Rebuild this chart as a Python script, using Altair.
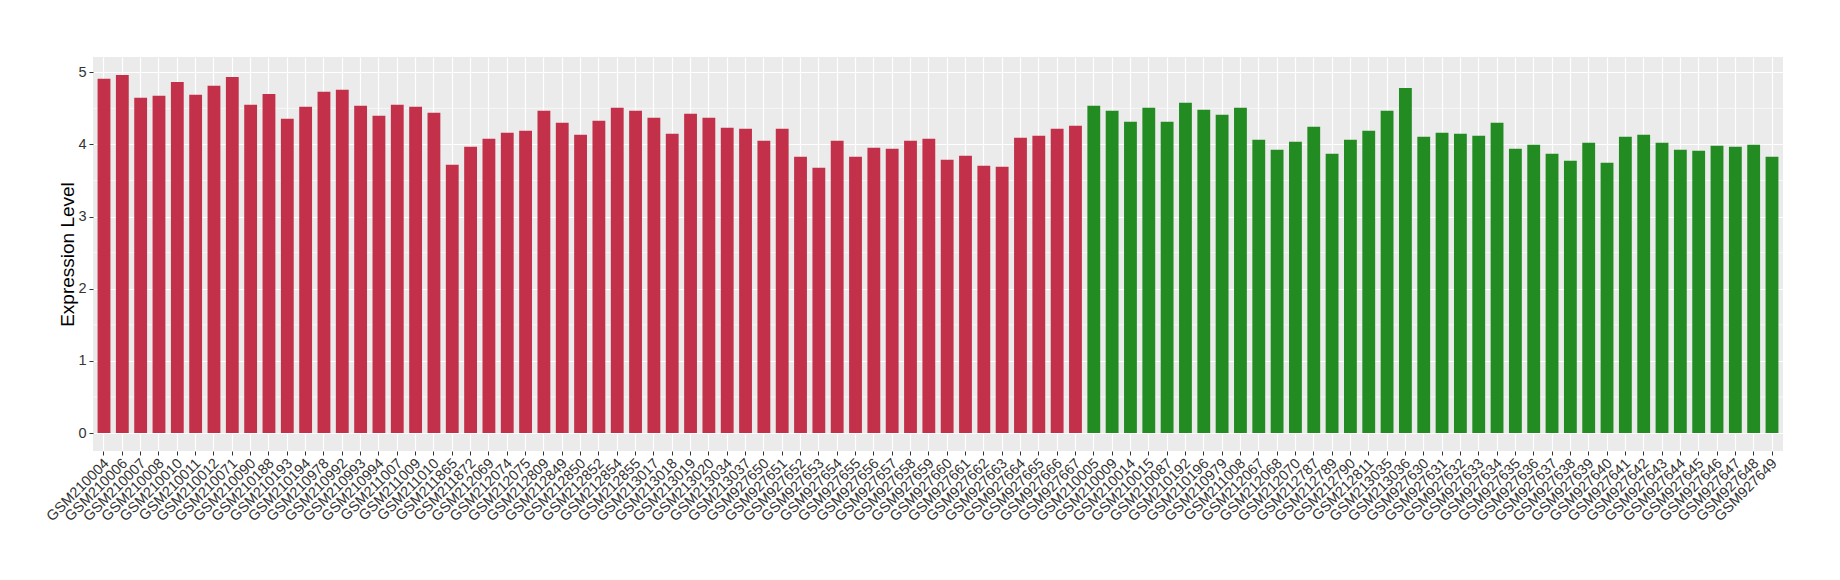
import altair as alt
import pandas as pd

red_samples = [
    "GSM210004", "GSM210006", "GSM210007", "GSM210008", "GSM210010", "GSM210011",
    "GSM210012", "GSM210071", "GSM210090", "GSM210188", "GSM210193", "GSM210194",
    "GSM210978", "GSM210992", "GSM210993", "GSM210994", "GSM211007", "GSM211009",
    "GSM211010", "GSM211865", "GSM211872", "GSM212069", "GSM212074", "GSM212075",
    "GSM212809", "GSM212849", "GSM212850", "GSM212852", "GSM212854", "GSM212855",
    "GSM213017", "GSM213018", "GSM213019", "GSM213020", "GSM213034", "GSM213037",
    "GSM927650", "GSM927651", "GSM927652", "GSM927653", "GSM927654", "GSM927655",
    "GSM927656", "GSM927657", "GSM927658", "GSM927659", "GSM927660", "GSM927661",
    "GSM927662", "GSM927663", "GSM927664", "GSM927665", "GSM927666", "GSM927667",
]
red_values = [
    4.908, 4.963, 4.645, 4.673, 4.866, 4.687, 4.811, 4.935, 4.548, 4.700,
    4.355, 4.521, 4.728, 4.756, 4.535, 4.396, 4.548, 4.521, 4.438, 3.719,
    3.968, 4.078, 4.161, 4.189, 4.465, 4.300, 4.134, 4.327, 4.507, 4.465,
    4.369, 4.147, 4.424, 4.369, 4.230, 4.217, 4.051, 4.217, 3.829, 3.677,
    4.051, 3.829, 3.954, 3.940, 4.051, 4.078, 3.788, 3.843, 3.705, 3.691,
    4.092, 4.120, 4.217, 4.258,
]
green_samples = [
    "GSM210005", "GSM210009", "GSM210014", "GSM210015", "GSM210087", "GSM210192",
    "GSM210196", "GSM210979", "GSM211008", "GSM212067", "GSM212068", "GSM212070",
    "GSM212787", "GSM212789", "GSM212790", "GSM212811", "GSM213035", "GSM213036",
    "GSM927630", "GSM927631", "GSM927632", "GSM927633", "GSM927634", "GSM927635",
    "GSM927636", "GSM927637", "GSM927638", "GSM927639", "GSM927640", "GSM927641",
    "GSM927642", "GSM927643", "GSM927644", "GSM927645", "GSM927646", "GSM927647",
    "GSM927648", "GSM927649",
]
green_values = [
    4.535, 4.465, 4.313, 4.507, 4.313, 4.576, 4.479, 4.410, 4.507, 4.065,
    3.926, 4.037, 4.244, 3.871, 4.065, 4.189, 4.465, 4.783, 4.106, 4.161,
    4.147, 4.120, 4.300, 3.940, 3.995, 3.871, 3.774, 4.023, 3.747, 4.106,
    4.134, 4.023, 3.926, 3.912, 3.982, 3.968, 3.995, 3.829,
]
groups = ["Group1", "Group2"]
group_colors = ["#C3304A", "#228B22"]
y_ticks = [0, 1, 2, 3, 4, 5]
y_minor = [0.5, 1.5, 2.5, 3.5, 4.5]

samples = red_samples + green_samples
df = pd.DataFrame({
    "sample": samples,
    "value": red_values + green_values,
    "group": [groups[0]] * len(red_samples) + [groups[1]] * len(green_samples),
})
minor_df = pd.DataFrame({"m": y_minor})

FONT = "Liberation Sans"
ydom = [-0.248, 5.211]

xenc = alt.X(
    "sample:N",
    sort=samples,
    scale=alt.Scale(paddingInner=0.3, paddingOuter=0.25),
    axis=alt.Axis(
        title=None, labelAngle=315, labelAlign="right", labelBaseline="middle",
        labelFontSize=14.5, labelFont=FONT, labelColor="#333333",
        labelPadding=6, labelOffset=3, tickSize=4, tickColor="#333333",
        tickWidth=1, domain=False, grid=True, gridColor="white", gridWidth=1.2,
        labelOverlap=False,
    ),
)

minor = alt.Chart(minor_df).mark_rule(color="white", strokeWidth=0.6).encode(
    y=alt.Y("m:Q", scale=alt.Scale(domain=ydom, nice=False, zero=False)),
)

bars = alt.Chart(df).mark_bar().encode(
    x=xenc,
    y=alt.Y(
        "value:Q",
        scale=alt.Scale(domain=ydom, nice=False, zero=False),
        axis=alt.Axis(
            title="Expression Level", values=y_ticks, format="d",
            labelFontSize=14.5, labelFont=FONT, labelColor="#333333", labelPadding=3,
            tickSize=4, tickColor="#333333", tickWidth=1, domain=False,
            grid=True, gridColor="white", gridWidth=1.2,
            titleFontSize=19, titleFont=FONT, titleFontWeight="normal",
            titleColor="black", titleX=-26, titleBaseline="middle",
        ),
    ),
    color=alt.Color("group:N", scale=alt.Scale(domain=groups, range=group_colors), legend=None),
)

chart = alt.layer(minor, bars).properties(
    width=1690, height=394,
    autosize=alt.AutoSizeParams(type="none"),
    padding={"left": 85, "top": 49, "right": 49, "bottom": 129},
).configure_view(fill="#EBEBEB", stroke=None)

chart.save("out.html", embed_options={"renderer": "svg", "actions": False})
